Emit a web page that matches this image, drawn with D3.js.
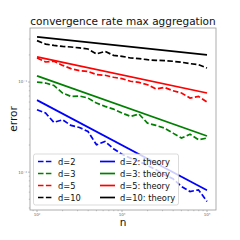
<!DOCTYPE html>
<html>
<head>
<meta charset="utf-8">
<script src="https://cdn.jsdelivr.net/npm/d3@7"></script>
<style>
  html, body { margin: 0; padding: 0; background: #fff; }
  svg { display: block; font-family: "DejaVu Sans", sans-serif; }
</style>
</head>
<body>
<div id="chart"></div>
<script>
// sample sizes
var nValues = [100, 126, 158, 200, 251, 316, 398, 501, 631, 794, 1000, 1259, 1585, 1995, 2512, 3162, 3981, 5012, 6310, 7943, 10000]

// measured error, max aggregation
var errD2 = [0.0493, 0.0453, 0.0357, 0.0381, 0.0330, 0.0313, 0.0283, 0.0201, 0.0219, 0.0182, 0.0158, 0.0143, 0.0131, 0.0119, 0.0106, 0.00934, 0.00843, 0.00693, 0.00610, 0.00636, 0.00472]
var errD3 = [0.100, 0.0975, 0.0918, 0.0755, 0.0693, 0.0700, 0.0664, 0.0584, 0.0537, 0.0501, 0.0453, 0.0416, 0.0441, 0.0350, 0.0330, 0.0308, 0.0271, 0.0239, 0.0264, 0.0229, 0.0239]
var errD5 = [0.185, 0.167, 0.170, 0.153, 0.141, 0.134, 0.131, 0.121, 0.119, 0.113, 0.109, 0.102, 0.0991, 0.0934, 0.0836, 0.0872, 0.0801, 0.0755, 0.0664, 0.0693, 0.0600]
var errD10 = [0.288, 0.264, 0.255, 0.249, 0.245, 0.239, 0.233, 0.205, 0.219, 0.198, 0.193, 0.185, 0.182, 0.177, 0.174, 0.173, 0.170, 0.166, 0.160, 0.156, 0.143]

// theory lines, value at first and last n
var theoryN = [100, 10000]
var theoryD2 = [0.063, 0.0063]
var theoryD3 = [0.117, 0.0252]
var theoryD5 = [0.19, 0.0756]
var theoryD10 = [0.318, 0.2007]

var xTicks = [100, 1000, 10000]
var xTickLabels = ["10²", "10³", "10⁴"]
var yTicks = [0.1, 0.01]
var yTickLabels = ["10⁻¹", "10⁻²"]

var series = [
  { label: "d=2", n: nValues, v: errD2, color: "#0000ff", dash: true },
  { label: "d=3", n: nValues, v: errD3, color: "#008000", dash: true },
  { label: "d=5", n: nValues, v: errD5, color: "#ff0000", dash: true },
  { label: "d=10", n: nValues, v: errD10, color: "#000000", dash: true },
  { label: "d=2: theory", n: theoryN, v: theoryD2, color: "#0000ff", dash: false },
  { label: "d=3: theory", n: theoryN, v: theoryD3, color: "#008000", dash: false },
  { label: "d=5: theory", n: theoryN, v: theoryD5, color: "#ff0000", dash: false },
  { label: "d=10: theory", n: theoryN, v: theoryD10, color: "#000000", dash: false }
]

var W = 240, H = 240
var m = { l: 30, r: 216, t: 28, b: 210 }

var svg = d3.select("#chart").append("svg")
  .attr("width", W)
  .attr("height", H)

// log axes with matplotlib-like margins
var x = d3.scaleLog()
  .domain([82.7, 12760])
  .range([m.l, m.r])
var y = d3.scaleLog()
  .domain([0.0038, 0.398])
  .range([m.b, m.t])

var lineGen = d3.line()
  .x(d => x(d[0]))
  .y(d => y(d[1]))

var plot = svg.append("g")

series.forEach(function (s) {
  plot.append("path")
    .datum(s.n.map((n, i) => [n, s.v[i]]))
    .attr("d", lineGen)
    .attr("fill", "none")
    .attr("stroke", s.color)
    .attr("stroke-width", 1.7)
    .attr("stroke-dasharray", s.dash ? "5.5,2.4" : null)
})

// frame
svg.append("rect")
  .attr("x", m.l)
  .attr("y", m.t)
  .attr("width", m.r - m.l)
  .attr("height", m.b - m.t)
  .attr("fill", "none")
  .attr("stroke", "#999")
  .attr("stroke-width", 0.8)

// axes
var xMinor = x.ticks().filter(t => xTicks.indexOf(t) < 0)
var yMinor = y.ticks().filter(t => yTicks.indexOf(t) < 0)

var xAxis = svg.append("g").attr("transform", `translate(0,${m.b})`)
xAxis.selectAll(".minor").data(xMinor).join("line")
  .attr("x1", d => x(d)).attr("x2", d => x(d))
  .attr("y1", 0).attr("y2", 1.2)
  .attr("stroke", "#999").attr("stroke-width", 0.6)
xAxis.selectAll(".major").data(xTicks).join("line")
  .attr("x1", d => x(d)).attr("x2", d => x(d))
  .attr("y1", 0).attr("y2", 2)
  .attr("stroke", "#999").attr("stroke-width", 0.7)
xAxis.selectAll("text").data(xTicks).join("text")
  .attr("x", d => x(d))
  .attr("y", 6)
  .attr("text-anchor", "middle")
  .attr("font-size", 4)
  .attr("fill", "#666")
  .text((d, i) => xTickLabels[i])

var yAxis = svg.append("g").attr("transform", `translate(${m.l},0)`)
yAxis.selectAll(".minor").data(yMinor).join("line")
  .attr("x1", -1.2).attr("x2", 0)
  .attr("y1", d => y(d)).attr("y2", d => y(d))
  .attr("stroke", "#999").attr("stroke-width", 0.6)
yAxis.selectAll(".major").data(yTicks).join("line")
  .attr("x1", -2).attr("x2", 0)
  .attr("y1", d => y(d)).attr("y2", d => y(d))
  .attr("stroke", "#999").attr("stroke-width", 0.7)
yAxis.selectAll("text").data(yTicks).join("text")
  .attr("x", -3)
  .attr("y", d => y(d) + 1.4)
  .attr("text-anchor", "end")
  .attr("font-size", 4)
  .attr("fill", "#666")
  .text((d, i) => yTickLabels[i])

// labels
svg.append("text")
  .attr("x", (m.l + m.r) / 2)
  .attr("y", 25)
  .attr("text-anchor", "middle")
  .attr("font-size", 10.5)
  .attr("fill", "#111")
  .text("convergence rate max aggregation")

svg.append("text")
  .attr("x", (m.l + m.r) / 2)
  .attr("y", 226)
  .attr("text-anchor", "middle")
  .attr("font-size", 10.5)
  .attr("fill", "#111")
  .text("n")

svg.append("text")
  .attr("transform", `translate(17,${(m.t + m.b) / 2}) rotate(-90)`)
  .attr("text-anchor", "middle")
  .attr("font-size", 10.5)
  .attr("fill", "#111")
  .text("error")

// legend, two columns
var legend = svg.append("g")
legend.append("rect")
  .attr("x", 33.5).attr("y", 154)
  .attr("width", 145).attr("height", 51)
  .attr("rx", 2)
  .attr("fill", "#fff").attr("fill-opacity", 0.8)
  .attr("stroke", "#ccc").attr("stroke-width", 0.7)

var item = legend.selectAll(".item").data(series).join("g")
  .attr("transform", (d, i) => `translate(${i < 4 ? 38 : 100},${161.5 + (i % 4) * 12})`)
item.append("line")
  .attr("x1", 0).attr("x2", 15)
  .attr("stroke", d => d.color)
  .attr("stroke-width", 1.7)
  .attr("stroke-dasharray", d => d.dash ? "5.5,2.4" : null)
item.append("text")
  .attr("x", 20)
  .attr("y", 3)
  .attr("font-size", 8.3)
  .attr("fill", "#111")
  .text(d => d.label)
</script>
</body>
</html>
